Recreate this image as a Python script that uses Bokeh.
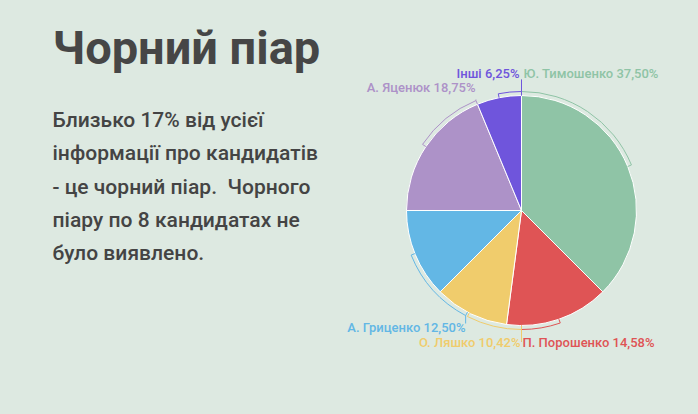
import math
from bokeh.plotting import figure
from bokeh.models import Range1d, ColumnDataSource
from bokeh.core.properties import value
from bokeh.embed import file_html
from bokeh.resources import INLINE

# ---- data ----
candidates = ["Ю. Тимошенко", "П. Порошенко", "О. Ляшко", "А. Гриценко", "А. Яценюк", "Інші"]
shares = [37.50, 14.58, 10.42, 12.50, 18.75, 6.25]
colors = ["#8fc4a6", "#df5455", "#f0cc6c", "#63b7e5", "#ad92c8", "#6f55dc"]

title_text = "Чорний піар"
body_lines = [
    "Близько 17% від усієї",
    "інформації про кандидатів",
    "- це чорний піар.\u00a0 Чорного",
    "піару по 8 кандидатах не",
    "було виявлено.",
]

# ---- layout (page pixel -> data) ----
W, H = 698, 414
BG = "#dde9e1"
FONT = "Roboto Medium"
def X(xp): return xp
def Y(yp): return H - yp
def YB(yp, fs): return H - (yp - 0.4 * fs)   # baseline compensation

cx, cy, R = X(521), Y(210), 115
RB = 119  # bracket radius

label_pos = [
    (523, 78, "left"),
    (522, 347, "left"),
    (520, 347, "right"),
    (465, 332, "right"),
    (475, 92, "right"),
    (519, 78, "right"),
]
bracket_deg = [(22.5, 90), (270, 289), (243, 270), (202, 242), (112.5, 146.25), (90, 101.25)]
leader_ang = [90, 270, 270, 242, 112.5, 90]
leader_end = [79, 341, 341, 323, 99, 79]  # page y where leader stops

p = figure(width=W, height=H, x_range=Range1d(0, W), y_range=Range1d(0, H),
           output_backend="svg", toolbar_location=None, min_border=0,
           background_fill_color=BG, border_fill_color=BG, outline_line_color=None)
p.axis.visible = False
p.grid.visible = False

# wedges (clockwise from 12 o'clock)
starts, ends = [], []
acc = 0.0
total = sum(shares)
for s in shares:
    a0 = math.radians(90 - acc / total * 360)
    a1 = math.radians(90 - (acc + s) / total * 360)
    starts.append(a1)
    ends.append(a0)
    acc += s
src = ColumnDataSource(dict(start=starts, end=ends, color=colors))
p.wedge(x=cx, y=cy, radius=R, start_angle="start", end_angle="end", direction="anticlock",
        fill_color="color", line_color="white", line_width=1, source=src)

# brackets
for (d0, d1), col, la, le in zip(bracket_deg, colors, leader_ang, leader_end):
    p.arc(x=cx, y=cy, radius=RB, start_angle=math.radians(d0), end_angle=math.radians(d1),
          direction="anticlock", line_color=col, line_width=1)
    for d in (d0, d1):
        r = math.radians(d)
        p.segment(x0=cx + (RB - 4) * math.cos(r), y0=cy + (RB - 4) * math.sin(r),
                  x1=cx + RB * math.cos(r), y1=cy + RB * math.sin(r), line_color=col, line_width=1)
    r = math.radians(la)
    x0, y0 = cx + RB * math.cos(r), cy + RB * math.sin(r)
    p.segment(x0=x0, y0=y0, x1=x0, y1=Y(le), line_color=col, line_width=1)

# labels
for name, s, col, (lx, ly, al) in zip(candidates, shares, colors, label_pos):
    txt = f"{name} " + f"{s:.2f}".replace(".", ",") + "%"
    p.text(x=[X(lx)], y=[YB(ly, 13)], text=[txt], text_color=col, text_font=value(FONT),
           text_font_size="13px", text_align=al, text_baseline="alphabetic")

# title and body
p.text(x=[X(52)], y=[YB(66, 47)], text=[title_text], text_color="#464646", text_font=value("Roboto"),
       text_font_size="47px", text_font_style="bold", text_baseline="alphabetic")
for i, line in enumerate(body_lines):
    p.text(x=[X(52)], y=[YB(128 + i * 33.3, 21)], text=[line], text_color="#444444",
           text_font=value(FONT), text_font_size="21px", text_baseline="alphabetic")

html = file_html(p, INLINE)
html = html.replace("<body>", f'<body style="background:{BG}">')
open("out.html", "w").write(html)
